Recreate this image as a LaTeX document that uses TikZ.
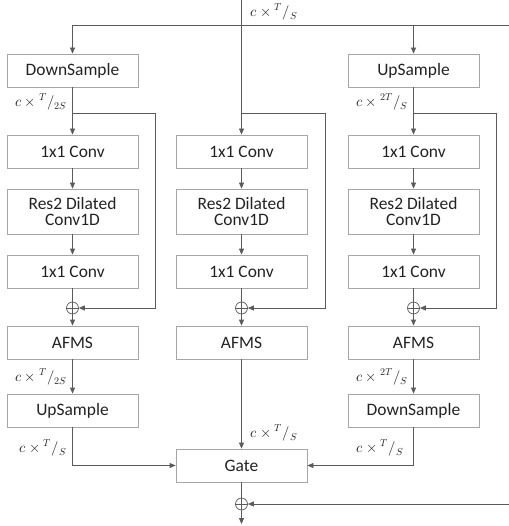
\documentclass[tikz,border=0pt]{standalone}
\usepackage{fontspec}
\usepackage{unicode-math}
\setmainfont{Carlito}
\setmathfont{Latin Modern Math}
\usetikzlibrary{arrows.meta}
\definecolor{lnc}{HTML}{5A5A5A}
\definecolor{bxc}{HTML}{A6A6A6}
\definecolor{txc}{HTML}{222222}
\newcommand{\myfr}[2]{{}^{#1}{/}_{#2}}
\newcommand{\mylab}[2]{$c\times\myfr{#1}{#2}$}
\begin{document}
\begin{tikzpicture}[x=1bp,y=-1bp,
  blk/.style={draw=bxc, line width=0.8bp, minimum width=131bp, minimum height=33bp, text=txc,
    font=\fontsize{17.5}{20}\selectfont, inner sep=0pt, align=center},
  lnk/.style={draw=lnc, line width=0.8bp},
  arr/.style={lnk, -{Triangle[length=6bp,width=5bp]}},
  lab/.style={font=\fontsize{14.5}{17}\selectfont, text=txc, inner sep=1pt},
  plus/.style={circle, draw=lnc, line width=0.7bp, minimum size=12bp, inner sep=0pt}]
\useasboundingbox (0,0) rectangle (509,526);
% columns: left 72.5, mid 241.5, right 413.5
\node[blk] (dsL) at (72.5,70.5) {DownSample};
\node[blk] (usR) at (413.5,70.5) {UpSample};
\foreach \n/\x in {L/72.5,M/241.5,R/413.5}{
  \node[blk] (ca\n) at (\x,151.5) {1x1 Conv};
  \node[blk, minimum height=45bp] (rs\n) at (\x,211.5) {Res2 Dilated\\[-3pt]Conv1D};
  \node[blk] (cb\n) at (\x,271.5) {1x1 Conv};
  \node[plus] (p\n) at (\x,308) {};
  \node[blk] (af\n) at (\x,342.5) {AFMS};
}
\node[blk] (usL) at (72.5,410.5) {UpSample};
\node[blk] (dsR) at (413.5,410.5) {DownSample};
\node[blk] (gate) at (241.5,465.5) {Gate};
\node[plus] (pF) at (241.5,504) {};
% top distribution
\coordinate (top) at (241.5,0);
\coordinate (jL) at (72.5,25);
\coordinate (jM) at (241.5,25);
\coordinate (jR) at (413.5,25);
\coordinate (rE) at (509,25);
\draw[lnk] (jL) -- (rE);
\draw[lnk] (top) -- (jM);
\draw[arr] (jL) -- (dsL.north);
\draw[arr] (jR) -- (usR.north);
\draw[arr] (jM) -- (caM.north);
\draw[arr] (dsL) -- (caL);
\draw[arr] (usR) -- (caR);
% skips
\foreach \n/\x/\k in {L/72.5/155,M/241.5/325,R/413.5/496}{
  \coordinate (s\n) at (\x,113);
  \coordinate (k\n) at (\k,113);
  \coordinate (q\n) at (\k,308);
  \draw[arr] (s\n) -- (k\n) -- (q\n) -- (p\n.east);
  \draw[arr] (ca\n) -- (rs\n);
  \draw[arr] (rs\n) -- (cb\n);
  \draw[lnk] (cb\n.south) -- (p\n.north);
  \draw[lnk] (p\n.north) -- (p\n.south) (p\n.west) -- (p\n.east);
  \draw[arr] (p\n.south) -- (af\n.north);
}
\draw[arr] (afL) -- (usL);
\draw[arr] (afR) -- (dsR);
\draw[arr] (afM) -- (gate);
\coordinate (gL) at (72.5,465.5);
\coordinate (gR) at (413.5,465.5);
\draw[arr] (usL.south) -- (gL) -- (gate.west);
\draw[arr] (dsR.south) -- (gR) -- (gate.east);
\draw[lnk] (gate.south) -- (pF.north);
\draw[lnk] (pF.north) -- (pF.south) (pF.west) -- (pF.east);
\coordinate (fE) at (509,504);
\coordinate (out) at (241.5,524);
\draw[arr] (fE) -- (pF.east);
\draw[arr] (pF.south) -- (out);
% labels
\node[lab] (l1) at (274,12) {\mylab{T}{S}};
\node[lab] (l2) at (41,102) {\mylab{T}{2S}};
\node[lab] (l3) at (382,102) {\mylab{2T}{S}};
\node[lab] (l4) at (41,377) {\mylab{T}{2S}};
\node[lab] (l5) at (382,377) {\mylab{2T}{S}};
\node[lab] (l6) at (43,448) {\mylab{T}{S}};
\node[lab] (l7) at (274,433) {\mylab{T}{S}};
\node[lab] (l8) at (380,448) {\mylab{T}{S}};
\end{tikzpicture}
\end{document}
